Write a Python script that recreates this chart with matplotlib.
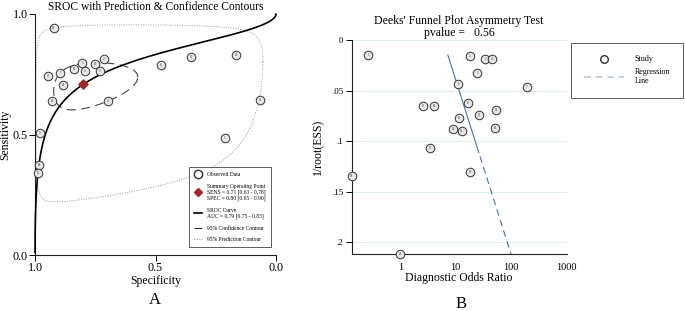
import numpy as np
import matplotlib
matplotlib.use("Agg")
import matplotlib.pyplot as plt
from matplotlib.lines import Line2D

plt.rcParams['font.family'] = ['Liberation Serif', 'DejaVu Serif']

# ---------------- Panel A data ----------------
spec_obs = [0.922, 0.945, 0.895, 0.883, 0.929, 0.837, 0.804, 0.794, 0.750, 0.732,
            0.714, 0.698, 0.478, 0.353, 0.165, 0.065, 0.213, 0.979, 0.982, 0.988]
sens_obs = [0.943, 0.744, 0.756, 0.707, 0.640, 0.773, 0.798, 0.762, 0.791, 0.765,
            0.813, 0.640, 0.787, 0.820, 0.831, 0.644, 0.487, 0.507, 0.375, 0.339]
study_ids_a = [12, 17, 7, 14, 16, 10, 5, 6, 19, 3, 2, 4, 8, 11, 20, 13, 1, 9, 18, 15]
summary_spec = 0.80
summary_sens = 0.71
# SROC: logit(sens) = alpha + beta * logit(1 - spec)
sroc_alpha = 1.60
sroc_beta = 0.515
# contours in logit space (a: half-width along logit FPR, b: along logit sens, c: shear)
conf_params = [1.09, 0.46, 0.14]
pred_params = [4.25, 2.1, 0.5]

legend_a = ["Observed Data",
            "Summary Operating Point\nSENS = 0.71 [0.63 - 0.78]\nSPEC = 0.80 [0.65 - 0.90]",
            "SROC Curve\nAUC = 0.79 [0.75 - 0.83]",
            "95% Confidence Contour",
            "95% Prediction Contour"]

# ---------------- Panel B data ----------------
dor = [0.264, 18.2, 34.4, 45.0, 24.4, 11.2, 193.0, 16.5, 2.54, 4.12,
       53.8, 26.8, 11.5, 8.86, 12.7, 50.9, 3.44, 0.132, 18.0, 1.0]
inv_root_ess = [0.0148, 0.0161, 0.0185, 0.0185, 0.0326, 0.0435, 0.0467, 0.062, 0.065, 0.065,
                0.069, 0.0744, 0.077, 0.0876, 0.0896, 0.0873, 0.107, 0.1344, 0.1307, 0.2118]
study_ids_b = list(range(1, 21))
# regression: log10(DOR) = reg_a + reg_b * (1/root(ESS))
reg_a = 0.771
reg_b = 5.80
pvalue = 0.56

def logit(p):
    p = np.asarray(p, float)
    return np.log(p / (1 - p))

def expit(x):
    return 1 / (1 + np.exp(-x))

fig = plt.figure(figsize=(6.85, 3.11), dpi=100)

# ================= Panel A =================
axA = fig.add_axes([35/685, (311-255)/311, 241/685, 241/311])
axA.set_xlim(1.0, 0.0)
axA.set_ylim(0.0, 1.0)

cx, cy = logit(1 - summary_spec), logit(summary_sens)
t = np.linspace(0, 2*np.pi, 400)
contour_styles = [(conf_params, (0, (8, 5)), 0.8, '#444444'),
                  (pred_params, (0, (1, 1.5)), 0.7, '#999999')]
for (a, b, c), ls, lw, col in contour_styles:
    lx = cx + a*np.cos(t)
    ly = cy + b*np.sin(t) + c*np.cos(t)
    axA.plot(1 - expit(lx), expit(ly), color=col, linestyle=ls, linewidth=lw,
             zorder=2, clip_on=False)

fpr = np.linspace(-12, 12, 600)
sens_curve = expit(sroc_alpha + sroc_beta*fpr)
axA.plot(1 - expit(fpr), sens_curve, color='black', linewidth=1.2, zorder=3, clip_on=False)

axA.scatter(spec_obs, sens_obs, s=38, facecolor='#e6e6e6', edgecolor='#333333',
            linewidth=0.7, zorder=4, clip_on=False)
for sx, sy, sid in zip(spec_obs, sens_obs, study_ids_a):
    axA.text(sx, sy, str(sid), fontsize=2.3, ha='center', va='center', color='#333333', zorder=5)
axA.scatter([summary_spec], [summary_sens], marker='D', s=22, color='#9e2a2b', zorder=6)

for sp in ['top', 'right']:
    axA.spines[sp].set_visible(False)
for sp in ['left', 'bottom']:
    axA.spines[sp].set_color('#222222')
    axA.spines[sp].set_linewidth(0.8)
axA.set_xticks([1.0, 0.5, 0.0])
axA.set_xticklabels(['1.0', '0.5', '0.0'])
axA.set_yticks([0.0, 0.5, 1.0])
axA.set_yticklabels(['0.0', '0.5', '1.0'])
axA.tick_params(labelsize=8.7, length=4, width=0.7, pad=1)
axA.set_xlabel('Specificity', fontsize=8.5, labelpad=1)
axA.set_ylabel('Sensitivity', fontsize=8.5)
axA.yaxis.set_label_coords(-0.097, 0.5)
axA.set_title('SROC with Prediction & Confidence Contours', fontsize=8.3, pad=3)

handles = [Line2D([], [], marker='o', linestyle='none', markerfacecolor='white',
                  markeredgecolor='#333333', markersize=6),
           Line2D([], [], marker='D', linestyle='none', color='#9e2a2b', markersize=4),
           Line2D([], [], color='black', linewidth=1.2),
           Line2D([], [], color='#333333', linestyle=(0, (8, 5)), linewidth=0.8),
           Line2D([], [], color='#888888', linestyle=(0, (1, 1.5)), linewidth=0.7)]
legA = axA.legend(handles, legend_a, loc='lower right', bbox_to_anchor=(0.99, 0.02),
                  fontsize=4.0, frameon=True, fancybox=False, handlelength=1.5,
                  labelspacing=1.2, borderpad=0.9, handletextpad=0.9)
legA.get_frame().set_edgecolor('#333333')
legA.get_frame().set_linewidth(0.7)

fig.text(155/685, 1 - 300/311, 'A', fontsize=12, ha='center', va='center')

# ================= Panel B =================
axB = fig.add_axes([351.7/685, (311-254.3)/311, 214.8/685, 214.3/311])
axB.set_xscale('log')
axB.set_xlim(min(dor), 1000)
axB.set_ylim(max(inv_root_ess), 0.0)

yticks = [0, 0.05, 0.1, 0.15, 0.2]
for yv in yticks:
    axB.axhline(yv, color='#e3eef2', linewidth=0.8, zorder=0)

y_line = np.linspace(min(inv_root_ess), max(inv_root_ess), 50)
x_line = 10**(reg_a + reg_b*y_line)
split = 0.115
m1 = y_line <= split
axB.plot(x_line[m1], y_line[m1], color='#4c72a4', linewidth=0.8, zorder=2)
y2 = np.linspace(split, max(inv_root_ess), 50)
axB.plot(10**(reg_a + reg_b*y2), y2, color='#4c72a4', linewidth=0.8,
         linestyle=(0, (6, 4)), zorder=2)

axB.scatter(dor, inv_root_ess, s=38, facecolor='#e6e6e6', edgecolor='#333333',
            linewidth=0.7, zorder=4, clip_on=False)
for dx, dy, sid in zip(dor, inv_root_ess, study_ids_b):
    axB.text(dx, dy, str(sid), fontsize=2.3, ha='center', va='center', color='#333333', zorder=5)

for sp in ['top', 'right']:
    axB.spines[sp].set_visible(False)
for sp in ['left', 'bottom']:
    axB.spines[sp].set_color('#222222')
    axB.spines[sp].set_linewidth(0.8)
axB.set_yticks(yticks)
axB.set_yticklabels(['0', '.05', '.1', '.15', '.2'])
axB.set_xticks([1, 10, 100, 1000])
axB.set_xticklabels(['1', '10', '100', '1000'])
axB.xaxis.set_minor_locator(matplotlib.ticker.NullLocator())
axB.tick_params(axis='y', labelsize=6.5, length=4, width=0.7, pad=2)
axB.tick_params(axis='x', labelsize=7.5, length=0, pad=6)
axB.set_xlabel('Diagnostic Odds Ratio', fontsize=8.5, labelpad=0)
axB.set_ylabel('1/root(ESS)', fontsize=8.5, labelpad=6)
axB.set_title("Deeks' Funnel Plot Asymmetry Test\npvalue =   %.2f" % pvalue,
              fontsize=8.5, pad=3, linespacing=0.95)

handlesB = [Line2D([], [], marker='o', linestyle='none', markerfacecolor='white',
                   markeredgecolor='#333333', markersize=5.5),
            Line2D([], [], color='#b9c7dc', linestyle=(0, (4, 3)), linewidth=1.2)]
legB = fig.legend(handlesB, ['Study', 'Regression\nLine'], loc='upper left',
                  bbox_to_anchor=(571/685, 1 - 42.5/311), fontsize=5.8, frameon=True,
                  fancybox=False, handlelength=5.0, labelspacing=0.6, borderpad=1.6,
                  handletextpad=1.3, borderaxespad=0)
legB.get_frame().set_edgecolor('#333333')
legB.get_frame().set_linewidth(0.7)

fig.text(461/685, 1 - 304/311, 'B', fontsize=12, ha='center', va='center')

fig.savefig('out.png', dpi=100)
